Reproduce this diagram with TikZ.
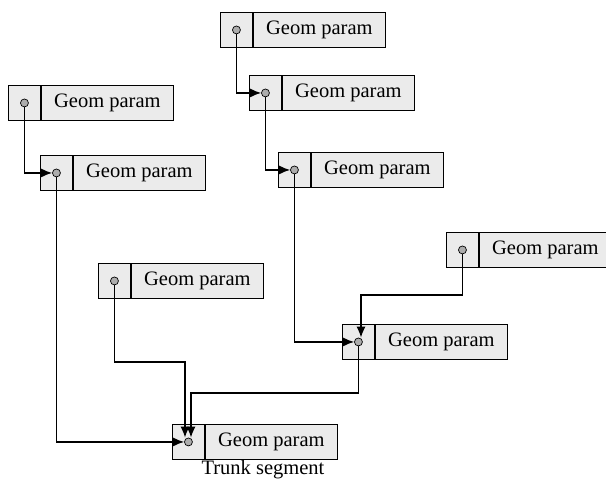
\documentclass[tikz,border=0pt]{standalone}
\usepackage{fontspec}
\setmainfont{Liberation Serif}
\usetikzlibrary{arrows.meta}
\tikzset{
  cellL/.style={draw=black, line width=0.9pt, fill=gray!16, minimum width=32pt, minimum height=35pt, inner sep=0pt, anchor=north west},
  cellR/.style={draw=black, line width=0.9pt, fill=gray!16, minimum width=132pt, minimum height=35pt, inner sep=0pt, anchor=west, font=\fontsize{20.5}{24}\selectfont},
  gdot/.style={circle, draw=black, line width=0.7pt, fill=gray!65, minimum size=8pt, inner sep=0pt},
  conn/.style={line width=1.3pt, -{Latex[length=11pt,width=9pt]}},
}
\newcommand{\gbox}[3]{%
  \node[cellL] (#1L) at (#2,#3) {};
  \node[cellR] (#1R) at (#1L.east) {Geom param};
  \node[gdot] (#1) at (#1L.center) {};
}
\begin{document}
\begin{tikzpicture}[x=1pt,y=-1pt]
\useasboundingbox (0,0) rectangle (606,484);
\gbox{A}{220}{12}
\gbox{B}{249}{75}
\gbox{C}{278}{152}
\gbox{D}{8}{85}
\gbox{E}{40}{155}
\gbox{F}{98}{263}
\gbox{G}{446}{232}
\gbox{H}{342}{324}
\gbox{I}{172}{424}
\node[font=\fontsize{20.5}{24}\selectfont] (trunk) at (263,470) {Trunk segment};
\coordinate (fturn) at (185,362);
\coordinate (gturn) at (361,295);
\coordinate (hturn) at (191,393);
\draw[conn] (A) |- (B);
\draw[conn] (B) |- (C);
\draw[conn] (C) |- (H);
\draw[conn] (D) |- (E);
\draw[conn] (E) |- (I);
\draw[conn] (F) |- (fturn) -- (fturn |- I.north);
\draw[conn] (G) |- (gturn) -- (gturn |- H.north);
\draw[conn] (H) |- (hturn) -- (hturn |- I.north);
\end{tikzpicture}
\end{document}
